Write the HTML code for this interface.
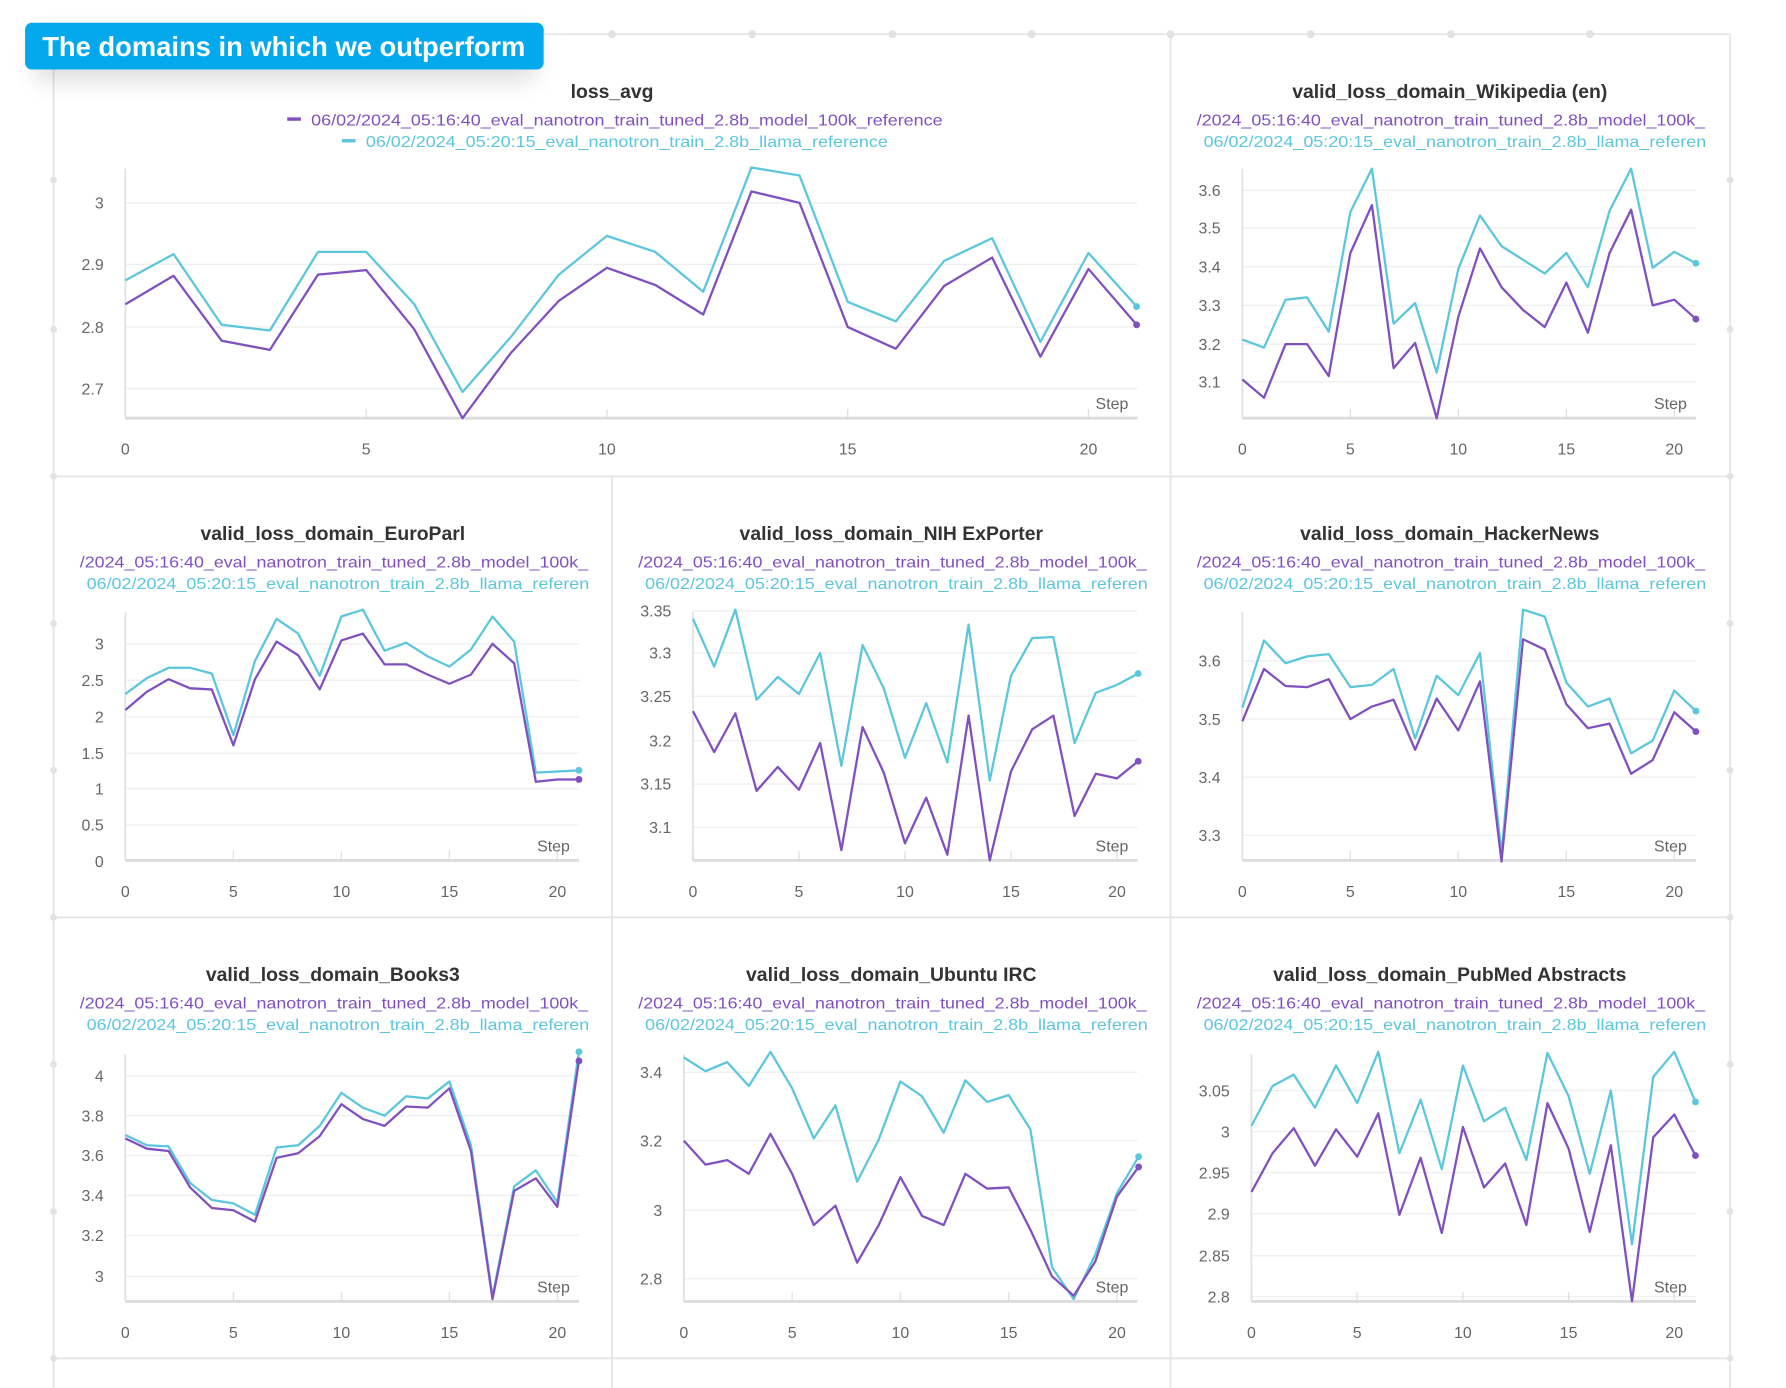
<!DOCTYPE html>
<html><head><meta charset="utf-8"><style>
html,body{margin:0;padding:0;background:#fff;}
svg{display:block;}
text{font-family:"Liberation Sans","DejaVu Sans",sans-serif;}
</style></head><body>
<svg id="s" width="1786" height="1388" viewBox="0 0 1567 1218" preserveAspectRatio="none" xmlns="http://www.w3.org/2000/svg">
<defs>
<filter id="sh" x="-20%" y="-50%" width="140%" height="250%"><feGaussianBlur stdDeviation="10"/></filter>
</defs>
<g id="grid"></g>
<g id="plots"></g>
<rect x="30" y="30" width="440" height="42" rx="8" fill="#000" opacity="0.12" filter="url(#sh)"/>
<rect x="22" y="20" width="455" height="41" rx="6" fill="#03a9ec"/>
<text x="249" y="49" text-anchor="middle" font-size="24" font-weight="bold" fill="#fff">The domains in which we outperform</text>
</svg>
<script>
var NS="http://www.w3.org/2000/svg";
function el(t,a,p,txt){var e=document.createElementNS(NS,t);for(var k in a)e.setAttribute(k,a[k]);if(txt!==undefined)e.textContent=txt;(p||document.getElementById('plots')).appendChild(e);return e;}
var G=document.getElementById('grid');
el('line',{x1:47,y1:30,x2:1518,y2:30,stroke:'#e4e4e4','stroke-width':1.5},G);
[418,805,1192].forEach(function(y){el('line',{x1:47,y1:y,x2:1518,y2:y,stroke:'#e4e4e4','stroke-width':1.5},G);});
el('line',{x1:1518,y1:30,x2:1518,y2:1218,stroke:'#e4e4e4','stroke-width':1.5},G);
el('line',{x1:47,y1:30,x2:47,y2:1218,stroke:'#e4e4e4','stroke-width':1.5},G);
el('line',{x1:1027,y1:30,x2:1027,y2:1218,stroke:'#e4e4e4','stroke-width':1.5},G);
el('line',{x1:537,y1:418,x2:537,y2:1218,stroke:'#e4e4e4','stroke-width':1.5},G);
[537,660,783,905,1027,1150,1273,1395].forEach(function(x){el('circle',{cx:x,cy:30,r:3.5,fill:'#e2e2e2'},G);});
[158,289,547,676,934,1063].forEach(function(y){el('circle',{cx:47,cy:y,r:3,fill:'#e2e2e2'},G);el('circle',{cx:1518,cy:y,r:3,fill:'#e2e2e2'},G);});
[418,805,1192].forEach(function(y){el('circle',{cx:47,cy:y,r:3,fill:'#e2e2e2'},G);el('circle',{cx:1518,cy:y,r:3,fill:'#e2e2e2'},G);});
var PU='#8050c0',CY='#5cc6dc';
var panels=[
{t:'loss_avg',cx:537,row:0,xl:110,x20:955,xr:998,top:148,wide:true,
 yt:[['3',178],['2.9',232],['2.8',287],['2.7',341]],
 p:[267,242,299,307,241,237,289,367,310,264,235,250,276,168,178,287,306,251,226,313,236,285],
 c:[246,223,285,290,221,221,267,344,296,241,207,221,256,147,154,265,282,229,209,300,222,269]},
{t:'valid_loss_domain_Wikipedia (en)',cx:1272,row:0,xl:1090,x20:1469,xr:1488,top:148,pl:1027,
 yt:[['3.6',167],['3.5',200],['3.4',234],['3.3',268],['3.2',302],['3.1',335]],
 p:[333,349,302,302,330,222,180,323,301,367,278,218,252,272,287,248,292,222,184,268,263,280],
 c:[298,305,263,261,291,186,148,284,266,327,236,189,216,228,240,222,252,185,148,235,221,231]},
{t:'valid_loss_domain_EuroParl',cx:292,row:1,xl:110,x20:489,xr:508,top:537,pl:47,
 yt:[['3',565],['2.5',597],['2',629],['1.5',661],['1',692],['0.5',724],['0',756]],
 p:[623,607,596,604,605,654,596,563,575,605,562,556,583,583,592,600,592,565,582,686,684,684],
 c:[609,595,586,586,591,645,580,543,556,593,541,535,571,564,576,585,570,541,563,678,677,676]},
{t:'valid_loss_domain_NIH ExPorter',cx:782,row:1,xl:608,x20:980,xr:998,top:537,pl:537,
 yt:[['3.35',536],['3.3',573],['3.25',611],['3.2',650],['3.15',688],['3.1',726]],
 p:[624,660,626,694,673,693,652,746,638,678,740,700,750,628,755,677,640,628,716,679,683,668],
 c:[543,585,535,614,594,609,573,672,566,604,665,617,669,548,685,593,560,559,652,608,601,591]},
{t:'valid_loss_domain_HackerNews',cx:1272,row:1,xl:1090,x20:1469,xr:1488,top:537,pl:1027,
 yt:[['3.6',580],['3.5',631],['3.4',682],['3.3',733]],
 p:[633,587,602,603,596,631,620,614,658,613,641,598,756,561,570,618,639,635,679,667,625,642],
 c:[621,562,582,576,574,603,601,587,648,593,610,573,750,535,541,599,620,613,661,650,606,624]},
{t:'valid_loss_domain_Books3',cx:292,row:2,xl:110,x20:489,xr:508,top:925,pl:47,
 yt:[['4',944],['3.8',979],['3.6',1014],['3.4',1049],['3.2',1084],['3',1120]],
 p:[999,1008,1010,1042,1060,1062,1072,1016,1012,997,969,982,988,971,972,955,1010,1140,1045,1034,1059,931],
 c:[996,1005,1006,1038,1053,1056,1066,1007,1005,988,959,972,979,962,964,949,1005,1138,1041,1027,1055,923]},
{t:'valid_loss_domain_Ubuntu IRC',cx:782,row:2,xl:600,x20:980,xr:998,top:925,pl:537,
 yt:[['3.4',941],['3.2',1001],['3',1062],['2.8',1122]],
 p:[1001,1022,1018,1030,995,1030,1075,1058,1108,1075,1033,1067,1075,1030,1043,1042,1079,1120,1137,1107,1050,1024],
 c:[928,940,932,953,923,955,999,970,1037,1000,949,962,994,948,967,961,991,1112,1140,1101,1047,1015]},
{t:'valid_loss_domain_PubMed Abstracts',cx:1272,row:2,xl:1098,x20:1469,xr:1488,top:925,pl:1027,
 yt:[['3.05',957],['3',993],['2.95',1029],['2.9',1065],['2.85',1102],['2.8',1138]],
 p:[1046,1012,990,1023,991,1015,977,1066,1016,1082,989,1042,1021,1075,968,1008,1081,1005,1142,998,978,1014],
 c:[988,953,943,972,935,968,923,1012,965,1026,935,984,972,1018,924,962,1030,957,1092,945,923,967]}
];
var off=[0,388,775];
panels.forEach(function(P,i){
 var o=off[P.row], bot=367+o, st=(P.x20-P.xl)/20;
 el('text',{x:P.cx,y:86+o,'text-anchor':'middle','font-size':17,'font-weight':'bold',fill:'#333'},null,P.t);
 if(P.wide){
  el('rect',{x:252,y:103+o,width:12,height:3,fill:PU});
  el('text',{x:273,y:110+o,'font-size':14,fill:PU,textLength:554,lengthAdjust:'spacingAndGlyphs'},null,'06/02/2024_05:16:40_eval_nanotron_train_tuned_2.8b_model_100k_reference');
  el('rect',{x:300,y:122+o,width:12,height:3,fill:CY});
  el('text',{x:321,y:129+o,'font-size':14,fill:CY,textLength:458,lengthAdjust:'spacingAndGlyphs'},null,'06/02/2024_05:20:15_eval_nanotron_train_2.8b_llama_reference');
 } else {
  el('text',{x:P.pl+23,y:110+o,'font-size':14,fill:PU,textLength:446,lengthAdjust:'spacingAndGlyphs'},null,'/2024_05:16:40_eval_nanotron_train_tuned_2.8b_model_100k_');
  el('text',{x:P.pl+29,y:129+o,'font-size':14,fill:CY,textLength:441,lengthAdjust:'spacingAndGlyphs'},null,'06/02/2024_05:20:15_eval_nanotron_train_2.8b_llama_referen');
 }
 P.yt.forEach(function(t){
  el('line',{x1:P.xl,y1:t[1],x2:P.xr,y2:t[1],stroke:'#efefef','stroke-width':1.2});
  el('text',{x:P.xl-19,y:t[1]+5,'text-anchor':'end','font-size':14,fill:'#666'},null,t[0]);
 });
 for(var k=0;k<=20;k+=5){var x=P.xl+k*st;
  el('line',{x1:x,y1:bot-8,x2:x,y2:bot,stroke:'#e0e0e0','stroke-width':1.2});
  el('text',{x:x,y:399+o,'text-anchor':'middle','font-size':14,fill:'#666'},null,String(k));}
 el('line',{x1:P.xl,y1:P.top,x2:P.xl,y2:bot,stroke:'#e0e0e0','stroke-width':1.5});
 el('line',{x1:P.xl,y1:bot,x2:P.xr,y2:bot,stroke:'#dcdcdc','stroke-width':2.5});
 el('text',{x:P.xr-8,y:bot-8,'text-anchor':'end','font-size':14,fill:'#666'},null,'Step');
 [[P.c,CY],[P.p,PU]].forEach(function(s){
  var d=s[0].map(function(y,j){return (j?'L':'M')+(P.xl+j*st).toFixed(1)+','+y;}).join('');
  el('path',{d:d,fill:'none',stroke:s[1],'stroke-width':2,'stroke-linejoin':'round'});
  el('circle',{cx:P.xl+21*st,cy:s[0][21],r:3,fill:s[1]});
 });
});
</script>
</body></html>
